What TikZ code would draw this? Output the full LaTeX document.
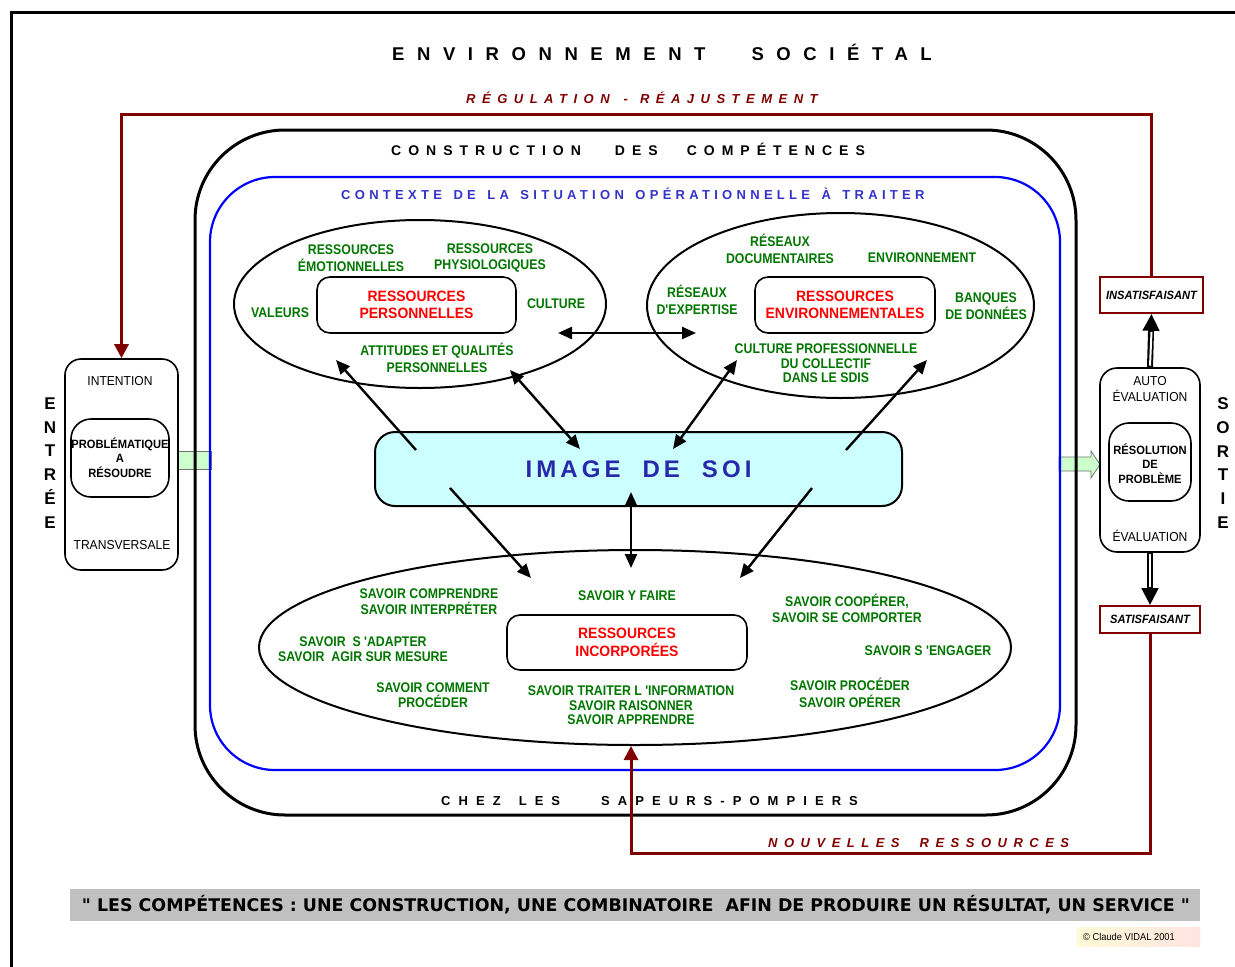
\documentclass[tikz,border=0pt]{standalone}
\usepackage{graphicx}
\usepackage{fontspec}
\setmainfont{Liberation Sans}
\newfontfamily\cnd[FakeStretch=0.88]{Liberation Sans}
\newfontfamily\cndr[FakeStretch=0.93]{Liberation Sans}
\newfontfamily\bannerfont{DejaVu Sans}
\usetikzlibrary{shapes.geometric,arrows.meta,calc}

\definecolor{grn}{RGB}{0,118,0}
\definecolor{dred}{RGB}{128,0,0}
\definecolor{ctxblue}{RGB}{51,51,204}
\definecolor{imgblue}{RGB}{40,40,170}
\definecolor{imgfill}{RGB}{204,255,255}
\definecolor{lgreen}{RGB}{204,255,204}
\definecolor{bannergray}{RGB}{192,192,192}

\newcommand\fsz[2]{\fontsize{#1}{#2}\selectfont}

\begin{document}
\begin{tikzpicture}[x=1pt,y=-1pt,
  gtxt/.style={text=grn, font=\cnd\bfseries\fsz{14}{16.5}, align=center, inner sep=0pt},
  rcore/.style={draw, line width=1.6pt, rounded corners=13pt, fill=white, text=red,
    font=\cndr\bfseries\fsz{15}{17.5}, align=center, inner sep=0pt},
  ell/.style={ellipse, draw, line width=2pt, inner sep=0pt},
  arr/.style={line width=2.4pt, -{Triangle[length=14pt,width=12pt]}},
  darr/.style={line width=2.4pt, {Triangle[length=14pt,width=12pt]}-{Triangle[length=14pt,width=12pt]}},
  sbox/.style={draw, line width=1.6pt, inner sep=0pt},
  stxt/.style={font=\cndr\fsz{13}{16}, align=center, inner sep=0pt},
  sbold/.style={font=\cndr\bfseries\fsz{12}{14.5}, align=center, inner sep=0pt},
  verdict/.style={draw=dred, line width=1.6pt, fill=white, inner sep=0pt,
    font=\cndr\bfseries\itshape\fsz{12}{14}},
  ttl/.style={inner sep=0pt, anchor=base west},
  loopln/.style={draw=dred, line width=3pt, -{Triangle[length=14pt,width=14pt]}},
  blockarrow/.style={fill=lgreen, draw=black!55, line width=0.8pt},
  vletters/.style={font=\bfseries\fsz{17}{23.8}, align=center, inner sep=0pt}
]
\useasboundingbox (0,0) rectangle (1235,967);
\fill[white] (0,0) rectangle (1235,967);

% page frame
\draw[line width=3pt] (11,980) -- (11,12) -- (1245,12);

% entry / exit block arrows
\draw[blockarrow] (178,451) rectangle (211,469);
\draw[blockarrow] (1059,457) -- (1091,457) -- (1091,451) -- (1100,464.5)
  -- (1091,478) -- (1091,471) -- (1059,471) -- cycle;

% construction frame and operational context
\node[draw, line width=3pt, rounded corners=90pt, minimum width=881pt,
  minimum height=685pt, inner sep=0pt] (comp) at (635.5,472.5) {};
\node[draw=blue, line width=2.2pt, rounded corners=65pt, minimum width=850pt,
  minimum height=593pt, inner sep=0pt] (ctx) at (635,473.5) {};

% headings
\node[ttl, font=\bfseries\fsz{18.5}{20}\addfontfeature{LetterSpace=68}] (envt) at (392,60.6)
  {ENVIRONNEMENT\hspace{46pt}SOCIÉTAL};
\node[ttl, text=dred, font=\bfseries\itshape\fsz{13}{15}\addfontfeature{LetterSpace=50}] (regl) at (466,103.7)
  {RÉGULATION\hspace{14pt}-\hspace{12pt}RÉAJUSTEMENT};
\node[ttl, font=\bfseries\fsz{14}{16}\addfontfeature{LetterSpace=50}] (cstr) at (391,155)
  {CONSTRUCTION\hspace{34pt}DES\hspace{29pt}COMPÉTENCES};
\node[ttl, text=ctxblue, font=\bfseries\fsz{13}{14}\addfontfeature{LetterSpace=33}] (ctxt) at (341,199.7)
  {CONTEXTE\hspace{11.5pt}DE\hspace{11.5pt}LA\hspace{11.5pt}SITUATION\hspace{11.5pt}OPÉRATIONNELLE\hspace{11.5pt}À\hspace{11.5pt}TRAITER};
\node[ttl, font=\bfseries\fsz{13}{15}\addfontfeature{LetterSpace=62}] (chez) at (441,805.7)
  {CHEZ\hspace{18pt}LES\hspace{41pt}SAPEURS-POMPIERS};
\node[ttl, text=dred, font=\bfseries\itshape\fsz{13}{15}\addfontfeature{LetterSpace=50}] (nouv) at (768,847.7)
  {NOUVELLES\hspace{20pt}RESSOURCES};

% personal resources
\node[ell, minimum width=372pt, minimum height=168pt] (pers) at (420,304) {};
\node[rcore, minimum width=199pt, minimum height=56pt] (persc) at (416.5,305) {RESSOURCES\\PERSONNELLES};
\node[gtxt] (emo) at (351,258) {RESSOURCES\\ÉMOTIONNELLES};
\node[gtxt] (phys) at (490,258) {RESSOURCES\\PHYSIOLOGIQUES};
\node[gtxt] (val) at (280,313) {VALEURS};
\node[gtxt] (cult) at (556,304) {CULTURE};
\node[gtxt] (att) at (437,358) {ATTITUDES ET QUALITÉS\\PERSONNELLES};

% environmental resources
\node[ell, minimum width=387pt, minimum height=185pt] (env) at (840.5,305.5) {};
\node[rcore, minimum width=180pt, minimum height=56pt] (envc) at (845,305) {RESSOURCES\\ENVIRONNEMENTALES};
\node[gtxt] (doc) at (780,249) {RÉSEAUX\\DOCUMENTAIRES};
\node[gtxt] (envi) at (922,258) {ENVIRONNEMENT};
\node[gtxt] (expt) at (697,300) {RÉSEAUX\\D'EXPERTISE};
\node[gtxt] (banq) at (986,306) {BANQUES\\DE DONNÉES};
\node[gtxt, font=\cnd\bfseries\fsz{14}{14.5}] (cpro) at (826,363.5) {CULTURE PROFESSIONNELLE\\DU COLLECTIF\\DANS LE SDIS};

% incorporated resources
\node[ell, minimum width=752pt, minimum height=195pt] (inc) at (635,647.5) {};
\node[rcore, minimum width=240pt, minimum height=55pt] (incc) at (627,642.5) {RESSOURCES\\INCORPORÉES};
\node[gtxt] (s1) at (429,601.5) {SAVOIR COMPRENDRE\\SAVOIR INTERPRÉTER};
\node[gtxt, font=\cnd\bfseries\fsz{14}{15}] (s2) at (363,649.5) {SAVOIR\ \ S 'ADAPTER\\SAVOIR\ \ AGIR SUR MESURE};
\node[gtxt, font=\cnd\bfseries\fsz{14}{15}] (s3) at (433,695.5) {SAVOIR COMMENT\\PROCÉDER};
\node[gtxt] (s4) at (627,596) {SAVOIR Y FAIRE};
\node[gtxt, font=\cnd\bfseries\fsz{14}{14.5}] (s5) at (631,705.5) {SAVOIR TRAITER L 'INFORMATION\\SAVOIR RAISONNER\\SAVOIR APPRENDRE};
\node[gtxt] (s6) at (847,608.5) {SAVOIR COOPÉRER,\\SAVOIR SE COMPORTER};
\node[gtxt] (s7) at (928,651) {SAVOIR S 'ENGAGER};
\node[gtxt] (s8) at (850,693) {SAVOIR PROCÉDER\\SAVOIR OPÉRER};

% self image
\node[draw, line width=2pt, fill=imgfill, rounded corners=20pt, minimum width=527pt,
  minimum height=74pt, inner sep=0pt, text=imgblue,
  font=\bfseries\fsz{24}{26}\addfontfeature{LetterSpace=17}] (img) at (638.5,469)
  {IMAGE\hspace{22pt}DE\hspace{22pt}SOI};

% links between the self image and the resources
\coordinate (a1s) at (416,450);  \coordinate (a1e) at (336,360);
\coordinate (a2s) at (580,449);  \coordinate (a2e) at (510,370);
\coordinate (a3s) at (673,449);  \coordinate (a3e) at (737,360);
\coordinate (a4s) at (846,450);  \coordinate (a4e) at (927,360);
\coordinate (a5s) at (450,488);  \coordinate (a5e) at (531,578);
\coordinate (a6s) at (631,492);  \coordinate (a6e) at (631,568);
\coordinate (a7s) at (812,488);  \coordinate (a7e) at (740,578);
\coordinate (pe) at (558,333);   \coordinate (ew) at (696,333);
\draw[arr] (a1s) -- (a1e);
\draw[darr] (a2s) -- (a2e);
\draw[darr] (a3s) -- (a3e);
\draw[arr] (a4s) -- (a4e);
\draw[arr] (a5s) -- (a5e);
\draw[darr] (a6s) -- (a6e);
\draw[arr] (a7s) -- (a7e);
\draw[darr] (pe) -- (ew);

% entry
\node[sbox, rounded corners=16pt, minimum width=113pt, minimum height=211pt] (intent) at (121.5,464.5) {};
\node[sbox, rounded corners=20pt, minimum width=98pt, minimum height=78pt] (prob) at (120,458) {};
\node[stxt] (intt) at (120,381) {INTENTION};
\node[sbold] (probt) at (120,457.5) {PROBLÉMATIQUE\\A\\RÉSOUDRE};
\node[stxt] (trans) at (122,545) {TRANSVERSALE};
\node[vletters] (entree) at (50,463) {E\\N\\T\\R\\É\\E};

% exit
\node[sbox, rounded corners=17pt, minimum width=100pt, minimum height=184pt] (eval) at (1150,460) {};
\node[sbox, rounded corners=20pt, minimum width=82pt, minimum height=78pt] (reso) at (1150,462) {};
\node[stxt] (auto) at (1150,389) {AUTO\\ÉVALUATION};
\node[sbold] (resot) at (1150,463.5) {RÉSOLUTION\\DE\\PROBLÈME};
\node[stxt] (evalt) at (1150,536) {ÉVALUATION};
\node[vletters] (sortie) at (1223,463) {S\\O\\R\\T\\I\\E};
\node[verdict, minimum width=103pt, minimum height=36pt] (insat) at (1151.5,295) {INSATISFAISANT};
\node[verdict, minimum width=100pt, minimum height=27pt] (sat) at (1150,619.5) {SATISFAISANT};

% hollow verdict arrows
\draw[line width=6pt, -{Triangle[length=17pt,width=16pt]}] (eval.north) -- (insat.south);
\draw[white, line width=2pt] ($(eval.north)+(0,-1.5)$) -- ($(insat.south)+(0,18)$);
\draw[line width=6pt, -{Triangle[length=17pt,width=16pt]}] (eval.south) -- (sat.north);
\draw[white, line width=2pt] ($(eval.south)+(0,1.5)$) -- ($(sat.north)+(0,-18)$);

% feedback loops
\coordinate (regtop) at (635,114);
\coordinate (nrbot) at (900,853);
\draw[loopln] (insat.north) |- (regtop) -| (intent.north);
\draw[loopln] (sat.south) |- (nrbot) -| ($(inc.south)+(-4,0)$);

% closing statement
\node[fill=bannergray, minimum width=1130pt, minimum height=32pt, inner sep=0pt] (ban) at (635,905) {};
\node[inner sep=0pt, font=\bannerfont\bfseries] (bant) at (636,905)
  {\resizebox{1108pt}{!}{" LES COMPÉTENCES : UNE CONSTRUCTION, UNE COMBINATOIRE\ \ AFIN DE PRODUIRE UN RÉSULTAT, UN SERVICE "}};
\shade[left color={rgb,255:red,255;green,250;blue,215}, right color={rgb,255:red,255;green,228;blue,225}]
  (1077,927) rectangle (1200,946);
\node[inner sep=0pt, font=\cndr\fsz{10}{11}] (copy) at (1129,936.5) {© Claude VIDAL 2001};
\end{tikzpicture}
\end{document}
